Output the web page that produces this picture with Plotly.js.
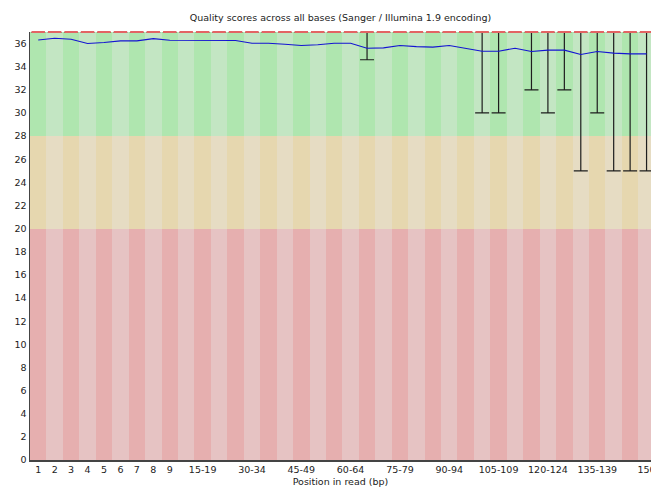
<!DOCTYPE html>
<html>
<head>
<meta charset="utf-8">
<script src="https://cdn.plot.ly/plotly-3.0.1.min.js"></script>
<style>html,body{margin:0;padding:0;background:#fff;}#chart{width:651px;height:489px;}</style>
</head>
<body>
<div id="chart"></div>
<script>
// Position groups (x categories)
const categories = ['1','2','3','4','5','6','7','8','9',
  '10-14','15-19','20-24','25-29','30-34','35-39','40-44','45-49','50-54','55-59',
  '60-64','65-69','70-74','75-79','80-84','85-89','90-94','95-99','100-104','105-109',
  '110-114','115-119','120-124','125-129','130-134','135-139','140-144','145-149','150'];
// Categories that carry a tick label
const tickLabels = ['1','2','3','4','5','6','7','8','9','15-19','30-34','45-49','60-64',
  '75-79','90-94','105-109','120-124','135-139','150'];
// Mean quality (blue line)
const meanQ = [36.31,36.46,36.37,36.0,36.09,36.23,36.23,36.43,36.29,
  36.3,36.3,36.3,36.27,36.03,36.03,35.94,35.83,35.9,36.03,
  36.03,35.6,35.63,35.83,35.74,35.69,35.83,35.6,35.34,35.34,
  35.6,35.31,35.43,35.43,35.06,35.31,35.17,35.11,35.11];
// Median quality (red marks)
const medianQ = [37,37,37,37,37,37,37,37,37,37,37,37,37,37,37,37,37,37,37,
  37,37,37,37,37,37,37,37,37,37,37,37,37,37,37,37,37,37,37];
// Upper whisker (90th percentile)
const upperQ = [37,37,37,37,37,37,37,37,37,37,37,37,37,37,37,37,37,37,37,
  37,37,37,37,37,37,37,37,37,37,37,37,37,37,37,37,37,37,37];
// Lower whisker (10th percentile)
const lowerQ = [37,37,37,37,37,37,37,37,37,37,37,37,37,37,37,37,37,37,37,
  37,34.6,37,37,37,37,37,37,30,30,37,32,30,32,25,30,25,25,25];
// Quality bands: bad / ok / good
const bandLower = [0,20,28];
const bandUpper = [20,28,37];
const bandDark  = ['rgb(230,175,175)','rgb(230,215,175)','rgb(175,230,175)'];
const bandLight = ['rgb(230,195,195)','rgb(230,220,195)','rgb(195,230,195)'];

const font = 'DejaVu Sans, sans-serif';
const traces = [];
for (let b = 0; b < bandLower.length; b++) {
  traces.push({
    type: 'bar',
    x: categories,
    y: categories.map(() => bandUpper[b] - bandLower[b]),
    base: categories.map(() => bandLower[b]),
    marker: {color: categories.map((c, i) => i % 2 === 0 ? bandDark[b] : bandLight[b]), line: {width: 0}},
    width: 1,
    hoverinfo: 'skip',
    showlegend: false
  });
}
traces.push({
  type: 'scatter', mode: 'markers',
  x: categories, y: upperQ,
  marker: {size: 1, color: 'rgba(0,0,0,0)'},
  error_y: {type: 'data', symmetric: false,
    array: upperQ.map(() => 0),
    arrayminus: upperQ.map((u, i) => u - lowerQ[i]),
    color: '#1e1e1e', thickness: 1.2, width: 7},
  cliponaxis: false, hoverinfo: 'skip', showlegend: false
});
traces.push({
  type: 'scatter', mode: 'lines',
  x: categories, y: meanQ,
  line: {color: 'rgb(20,20,210)', width: 1.1},
  hoverinfo: 'skip', showlegend: false
});
traces.push({
  type: 'scatter', mode: 'markers',
  x: categories, y: medianQ,
  marker: {symbol: 'line-ew', size: 9.6, line: {color: '#e36464', width: 2}},
  cliponaxis: false, hoverinfo: 'skip', showlegend: false
});

const layout = {
  width: 651, height: 489,
  margin: {l: 30, r: 0, t: 32, b: 29, pad: 0},
  paper_bgcolor: '#fff', plot_bgcolor: '#fff',
  barmode: 'overlay', bargap: 0,
  showlegend: false,
  title: {text: 'Quality scores across all bases (Sanger / Illumina 1.9 encoding)',
    font: {family: font, size: 9.5, color: '#222'},
    x: 0.5, xref: 'paper', y: 1 - 18/489, yref: 'container', yanchor: 'middle'},
  xaxis: {
    type: 'category', range: [-0.5, 37.27],
    tickmode: 'array', tickvals: tickLabels, ticktext: tickLabels,
    showgrid: false, zeroline: false, showline: true, linecolor: '#444', linewidth: 1.5,
    ticks: '', tickfont: {family: font, size: 9.5, color: '#222'},
    title: {text: 'Position in read (bp)', font: {family: font, size: 9.5, color: '#222'}, standoff: 4},
    automargin: false
  },
  yaxis: {
    range: [0, 37], tickmode: 'array',
    tickvals: [0,2,4,6,8,10,12,14,16,18,20,22,24,26,28,30,32,34,36],
    showgrid: false, zeroline: false, showline: true, linecolor: '#444', linewidth: 1.5,
    ticks: '', tickfont: {family: font, size: 9.5, color: '#222'},
    automargin: false
  }
};
Plotly.newPlot('chart', traces, layout, {staticPlot: true, displayModeBar: false});
</script>
</body>
</html>
